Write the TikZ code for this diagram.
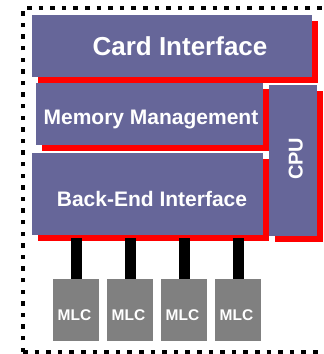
\documentclass[tikz,border=0pt]{standalone}
\usepackage{fontspec}
\setmainfont{Liberation Sans}
\usetikzlibrary{calc,shadows}
\definecolor{boxblue}{RGB}{102,102,153}
\definecolor{shadowred}{RGB}{255,0,0}
\definecolor{mlcgray}{RGB}{128,128,128}
\tikzset{
  blk/.style={fill=boxblue, draw=none, inner sep=0pt,
    drop shadow={shadow xshift=6pt, shadow yshift=-6pt, fill=shadowred, opacity=1}},
  mlcbox/.style={fill=mlcgray, draw=none, inner sep=0pt, minimum width=46pt, minimum height=62pt},
  wtxt/.style={text=white, inner sep=0pt, anchor=base, font=\bfseries},
  conn/.style={line width=11pt, draw=black},
  border/.style={line width=4.5pt, dash pattern=on 4.5pt off 7.1pt}
}
\begin{document}
\begin{tikzpicture}[x=1pt,y=-1pt]
\useasboundingbox (0,0) rectangle (324,354);
\clip (0,0) rectangle (324,354);
\fill[white] (0,0) rectangle (324,354);
\draw[border] (23,352) -- (23,8) -- (340,8);
\draw[border] (23,352) -- (340,352);
% boxes
\node[blk, minimum width=280pt, minimum height=62pt] (card) at (172,46) {};
\node[blk, minimum width=227pt, minimum height=62pt] (mem) at (149.5,114) {};
\node[blk, minimum width=231pt, minimum height=82pt] (be) at (147.5,194) {};
\node[blk, minimum width=48pt, minimum height=151pt] (cpu) at (293,160.5) {};
% texts
\node[wtxt, font=\fontsize{26}{26}\selectfont\bfseries] (tcard) at (180,55) {Card Interface};
\node[wtxt, font=\fontsize{21}{21}\selectfont\bfseries] (tmem) at (151,124) {Memory Management};
\node[wtxt, font=\fontsize{21}{21}\selectfont\bfseries] (tbe) at (152,206) {Back-End Interface};
\node[wtxt, font=\fontsize{20}{20}\selectfont\bfseries, rotate=90] (tcpu) at (302.5,158.7) {CPU};
% MLC
\foreach \i/\x in {1/76,2/130,3/184,4/238}{
  \node[mlcbox] (m\i) at (\x,310) {};
  \node[wtxt, font=\fontsize{15.5}{15.5}\selectfont\bfseries] (mt\i) at ($(m\i.center)+(-1.5,10.7)$) {MLC};
  \draw[conn] (m\i.north) -- ($(m\i.north |- be.south)+(0,3)$);
}
\end{tikzpicture}
\end{document}
